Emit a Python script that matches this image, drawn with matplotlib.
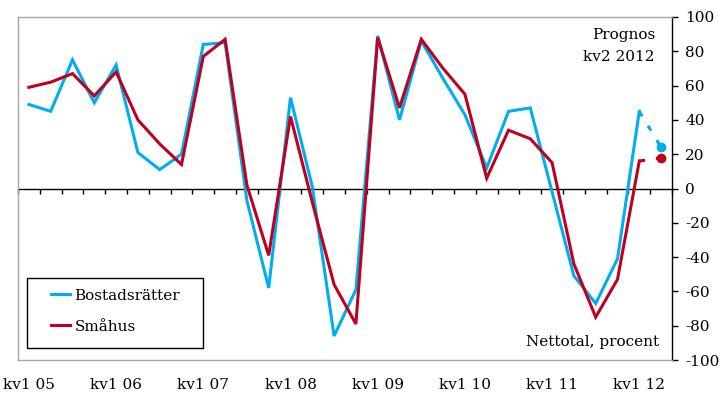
import numpy as np
import matplotlib
matplotlib.use("Agg")
import matplotlib.pyplot as plt
from matplotlib.patches import Rectangle
from matplotlib.ticker import FuncFormatter

# Quarterly net balance (percent), kv1 2005 .. kv2 2012 (last quarter is the forecast)
quarters = [f"kv{q} {y:02d}" for y in range(5, 13) for q in range(1, 5)][:30]
bostadsratter = [49, 45, 75, 50, 72, 21, 11, 20, 84, 85,
                 -7, -58, 53, 1, -86, -59, 89, 40, 86, 64,
                 43, 12, 45, 47, -2, -51, -67, -41, 45, 24]
smahus = [59, 62, 67, 54, 68, 40, 26, 14, 77, 87,
          2, -39, 42, -8, -56, -79, 88, 47, 87, 70,
          55, 6, 34, 29, 15, -44, -75, -53, 16, 18]
series_names = ["Bostadsrätter", "Småhus"]
ytick_values = list(range(-100, 101, 20))

BLUE = "#00AEEF"
RED = "#BF0020"
FRAME = "#A6A6A6"
FONT = "DejaVu Serif"
FS = 11

plt.rcParams["font.family"] = [FONT]
plt.rcParams["font.size"] = FS

fig = plt.figure(figsize=(7.23, 3.94), dpi=100)
ax = fig.add_axes([18 / 723, 1 - 360 / 394, 654 / 723, 343 / 394])

x = np.arange(len(quarters))
n_hist = len(quarters) - 1  # last point is the forecast

for vals, color, name in [(bostadsratter, BLUE, series_names[0]),
                          (smahus, RED, series_names[1])]:
    v = np.array(vals, dtype=float)
    ax.plot(x[:n_hist], v[:n_hist], color=color, lw=2.2, label=name,
            solid_joinstyle="miter", zorder=3)
    ax.plot(x[n_hist - 1:], v[n_hist - 1:], color=color, lw=2.2,
            linestyle=(0, (1.9, 3.6)), dash_capstyle="butt", zorder=3)
    ax.plot(x[n_hist:], v[n_hist:], "o", color=color, ms=6, zorder=4)

ax.set_xlim(-0.5, len(quarters) - 0.5)
ax.set_ylim(-100, 100)

# Frame
for side in ("left", "top", "bottom"):
    ax.spines[side].set_color(FRAME)
    ax.spines[side].set_linewidth(1.0)
ax.spines["right"].set_color("black")
ax.spines["right"].set_linewidth(1.0)

# Value axis on the right
ax.yaxis.tick_right()
ax.set_yticks(ytick_values)
ax.yaxis.set_major_formatter(FuncFormatter(lambda v, p: f"{int(v)}"))
ax.tick_params(axis="y", direction="out", length=4.5, width=1.0,
               color="black", pad=5, labelsize=FS)

# Category labels at the bottom, every fourth quarter
label_idx = list(range(0, len(quarters), 4))
ax.set_xticks(label_idx)
ax.set_xticklabels([quarters[i] for i in label_idx], fontsize=FS)
ax.tick_params(axis="x", length=0, pad=13)

# Category axis crossing at zero with ticks between quarters
zero_axis = ax.secondary_xaxis(0.5)
zero_axis.set_alignment("bottom")
zero_axis.set_xticks(np.arange(-0.5, len(quarters), 1.0))
zero_axis.tick_params(axis="x", direction="out", length=3.8, width=1.0,
                      color="black", labelbottom=False, labeltop=False)
zero_axis.spines["bottom"].set_color("black")
zero_axis.spines["bottom"].set_linewidth(1.0)

# Annotations
ax.text(0.974, 0.936, "Prognos", transform=ax.transAxes, ha="right",
        va="baseline", fontsize=FS)
ax.text(0.974, 0.872, "kv2 2012", transform=ax.transAxes, ha="right",
        va="baseline", fontsize=FS)
ax.text(0.980, 0.0417, "Nettotal, procent", transform=ax.transAxes,
        ha="right", va="baseline", fontsize=FS)

# Legend box
box = Rectangle((8.7 / 654, 11.7 / 343), 176 / 654, 70 / 343,
                transform=ax.transAxes, facecolor="white", edgecolor="black",
                lw=1.0, zorder=5)
ax.add_patch(box)
leg = ax.legend(loc="upper left", bbox_to_anchor=(32.7 / 654, 71.5 / 343),
                frameon=False, borderpad=0, borderaxespad=0,
                handlelength=1.26, handletextpad=0.3, labelspacing=1.12,
                fontsize=FS)
leg.set_zorder(6)

fig.savefig("out.png", dpi=100)
